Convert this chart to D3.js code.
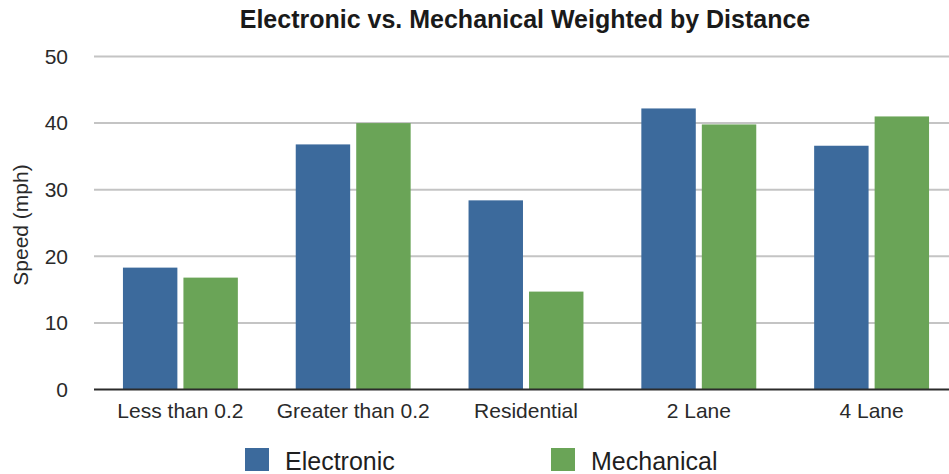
<!DOCTYPE html>
<html>
<head>
<meta charset="utf-8">
<script src="https://cdn.jsdelivr.net/npm/d3@7"></script>
<style>
  html, body { margin: 0; padding: 0; background: #fff; }
  svg { display: block; font-family: "Liberation Sans", Arial, Helvetica, sans-serif; }
</style>
</head>
<body>
<svg id="chart" width="949" height="474"></svg>
<script>
// Average speed per road category, weighted by distance
const categories = ["Less than 0.2", "Greater than 0.2", "Residential", "2 Lane", "4 Lane"];
const seriesNames = ["Electronic", "Mechanical"];
const electronic = [18.3, 36.8, 28.4, 42.2, 36.6];
const mechanical = [16.8, 40.0, 14.7, 39.8, 41.0];
const yTicks = [0, 10, 20, 30, 40, 50];
const colors = ["#3c6a9c", "#6aa457"];

const svg = d3.select("#chart");

const x0 = d3.scaleBand().domain(categories).range([94, 958]).paddingInner(0.335).paddingOuter(0.1675);
const x1 = d3.scaleBand().domain(seriesNames).range([0, x0.bandwidth()]).paddingInner(0.1);
const y = d3.scaleLinear().domain([0, 50]).range([389.5, 56.5]);
const color = d3.scaleOrdinal().domain(seriesNames).range(colors);

const rows = categories.map((c, i) => ({
  category: c,
  values: [
    { series: seriesNames[0], value: electronic[i] },
    { series: seriesNames[1], value: mechanical[i] }
  ]
}));

// Title
svg.append("text")
  .attr("x", 525).attr("y", 28)
  .attr("text-anchor", "middle")
  .attr("font-size", 25).attr("font-weight", "bold")
  .attr("fill", "#1a1a1a")
  .text("Electronic vs. Mechanical Weighted by Distance");

// Horizontal gridlines
svg.append("g")
  .selectAll("line")
  .data(yTicks.filter(t => t > 0))
  .join("line")
  .attr("x1", 94).attr("x2", 949)
  .attr("y1", d => y(d)).attr("y2", d => y(d))
  .attr("stroke", "#c4c4c4").attr("stroke-width", 2);

// Y axis tick labels
const yAxis = svg.append("g")
  .attr("transform", "translate(94,0)")
  .call(d3.axisLeft(y).tickValues(yTicks).tickSize(0).tickPadding(26).tickFormat(d3.format("d")));
yAxis.select(".domain").remove();
yAxis.selectAll("text")
  .attr("font-size", 21).attr("fill", "#2a2a2a")
  .attr("font-family", "\"Liberation Sans\", Arial, sans-serif");

// Y axis title
svg.append("text")
  .attr("transform", "translate(28,225) rotate(-90)")
  .attr("text-anchor", "middle")
  .attr("font-size", 21).attr("fill", "#2a2a2a")
  .text("Speed (mph)");

// Bars
svg.append("g")
  .selectAll("g")
  .data(rows)
  .join("g")
  .attr("transform", d => `translate(${x0(d.category)},0)`)
  .selectAll("rect")
  .data(d => d.values)
  .join("rect")
  .attr("x", d => x1(d.series))
  .attr("width", x1.bandwidth())
  .attr("y", d => y(d.value))
  .attr("height", d => y(0) - y(d.value))
  .attr("fill", d => color(d.series));

// Baseline
svg.append("line")
  .attr("x1", 94).attr("x2", 949)
  .attr("y1", y(0)).attr("y2", y(0))
  .attr("stroke", "#2b2b2b").attr("stroke-width", 2);

// Category labels
const xAxis = svg.append("g")
  .attr("transform", `translate(0,${y(0)})`)
  .call(d3.axisBottom(x0).tickSize(0).tickPadding(14));
xAxis.select(".domain").remove();
xAxis.selectAll("text")
  .attr("font-size", 21).attr("fill", "#2a2a2a")
  .attr("font-family", "\"Liberation Sans\", Arial, sans-serif");

// Legend
const legendX = [245, 551];
const legend = svg.append("g")
  .selectAll("g")
  .data(seriesNames)
  .join("g")
  .attr("transform", (d, i) => `translate(${legendX[i]},448)`);
legend.append("rect")
  .attr("width", 24).attr("height", 23)
  .attr("fill", d => color(d));
legend.append("text")
  .attr("x", 40).attr("y", 21.5)
  .attr("font-size", 25).attr("fill", "#1f1f1f")
  .text(d => d);
</script>
</body>
</html>
